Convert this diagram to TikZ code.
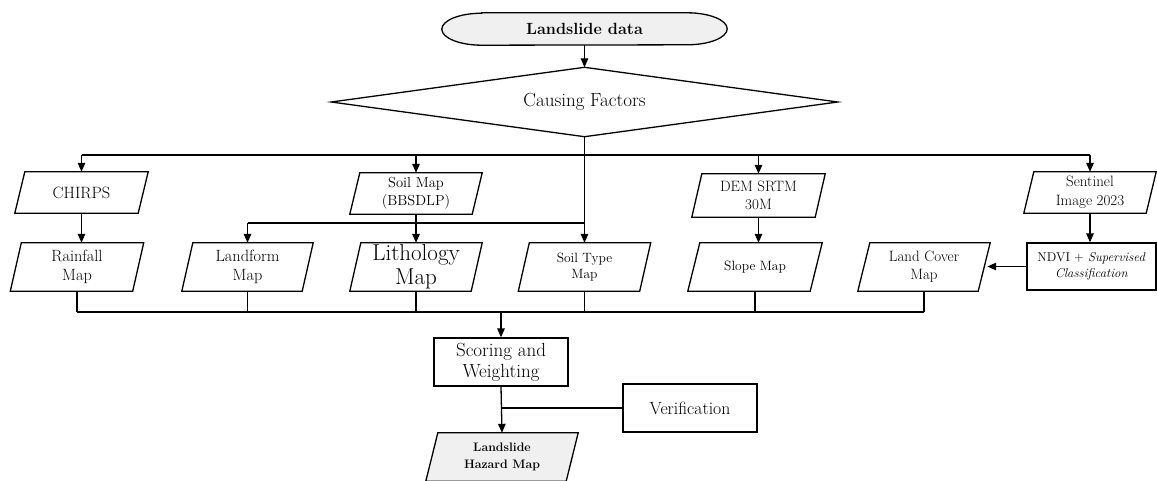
\documentclass[tikz,border=0pt]{standalone}
\usetikzlibrary{arrows.meta,calc,backgrounds}
\newcommand\pg[3][]{\draw[ln,#1] ($(#2.north west)+(#3,0)$) -- ($(#2.north east)+(#3,0)$) -- ($(#2.south east)-(#3,0)$) -- ($(#2.south west)-(#3,0)$) -- cycle;}
\newcommand\fsz[2]{\fontsize{#1}{#2}\selectfont}
\begin{document}
\begin{tikzpicture}[x=1pt,y=-1pt,
  base/.style={inner sep=0pt, align=center, text=black},
  prow1/.style={base, minimum width=123pt, minimum height=41pt},
  prow2/.style={base, minimum width=121pt, minimum height=48pt},
  rbox/.style={base, draw, line width=1.3pt, minimum width=134pt, minimum height=48pt},
  ln/.style={line width=1.3pt},
  arr/.style={ln, -{Triangle[length=9pt,width=7.5pt]}},
  lightfill/.style={fill=black!6}]
\useasboundingbox (0,0) rectangle (1157,480);

% top
\node[base, minimum width=285pt, minimum height=32pt, font=\fsz{16.2}{19}\bfseries] (ld) at (584.5,29) {Landslide data};
\node[base, minimum width=506pt, minimum height=69pt, font=\fsz{19}{22}] (cf) at (584.5,102) {Causing Factors};

% row 1
\node[prow1, font=\fsz{16.4}{19}] (chirps) at (81.5,192.5) {CHIRPS};
\node[prow1, minimum width=122pt, font=\fsz{14.5}{18}] (soilmap) at (416,193.5) {Soil Map\\(BBSDLP)};
\node[prow1, minimum height=43pt, font=\fsz{15}{18}] (dem) at (758.5,195.5) {DEM SRTM\\30M};
\node[prow1, minimum width=122pt, font=\fsz{15}{19}] (sent) at (1090,192.5) {Sentinel\\Image 2023};

% row 2
\node[prow2, minimum width=122pt, font=\fsz{16.3}{19}] (rain) at (77,267) {Rainfall\\Map};
\node[prow2, minimum width=120pt, font=\fsz{16.3}{19}] (landform) at (247.5,267) {Landform\\Map};
\node[prow2, font=\fsz{23}{23.5}] (litho) at (416,267) {Lithology\\Map};
\node[prow2, font=\fsz{13.5}{16}] (soiltype) at (584.5,267) {Soil Type\\Map};
\node[prow2, minimum width=122pt, font=\fsz{13.5}{16}] (slope) at (755,267) {Slope Map};
\node[prow2, minimum width=120pt, font=\fsz{15}{18}] (landcover) at (924,267) {Land Cover\\Map};
\node[rbox, minimum width=129pt, minimum height=47pt, font=\fsz{12.8}{15.5}] (ndvi) at (1091.5,266.5) {NDVI + \textit{Supervised}\\\textit{Classification}};

% bottom
\node[rbox, font=\fsz{19}{21}] (score) at (501,362) {Scoring and\\Weighting};
\node[rbox, font=\fsz{17.7}{19}] (verif) at (690,408) {Verification};
\node[base, minimum width=140pt, minimum height=48pt, font=\fsz{12.3}{17}\bfseries] (hazard) at (502,457) {Landslide\\Hazard Map};

% shapes behind text
\begin{scope}[on background layer]
  \draw[ln, lightfill] ($(ld.north west)+(40pt,0)$) -- ($(ld.north east)-(40pt,0)$)
     arc[start angle=90, end angle=-90, x radius=40pt, y radius=16pt]
     -- ($(ld.south west)+(40pt,0)$)
     arc[start angle=270, end angle=90, x radius=40pt, y radius=16pt] -- cycle;
  \draw[ln] (cf.north) -- (cf.east) -- (cf.south) -- (cf.west) -- cycle;
  \pg{chirps}{5}
  \pg{soilmap}{5}
  \pg{dem}{5}
  \pg{sent}{5}
  \pg{rain}{5.5}
  \pg{landform}{5.5}
  \pg{litho}{5.5}
  \pg{soiltype}{5.5}
  \pg{slope}{6}
  \pg{landcover}{6}
  \pg[lightfill]{hazard}{6}
\end{scope}

% buses
\coordinate (bus1) at (0,155);
\coordinate (bus2) at (0,223);
\coordinate (bus3) at (0,312);

% connectors
\draw[arr] (ld.south) -- (cf.north);
\draw[arr] (cf.south) -- (soiltype.north);
\draw[ln] (bus1 -| chirps) -- (bus1 -| sent);
\draw[arr] (bus1 -| chirps) -- (chirps.north);
\draw[arr] (bus1 -| soilmap) -- (soilmap.north);
\draw[arr] (bus1 -| dem) -- (dem.north);
\draw[arr] (bus1 -| sent) -- (sent.north);

\draw[arr] (chirps.south) -- (chirps.south |- rain.north);
\draw[ln] (soilmap.south) -- (bus2 -| soilmap);
\draw[ln] (bus2 -| landform) -- (bus2 -| soiltype);
\draw[arr] (bus2 -| landform) -- (landform.north);
\draw[arr] (bus2 -| soilmap) -- (soilmap.south |- litho.north);
\draw[arr] (dem.south) -- (dem.south |- slope.north);
\draw[arr] (sent.south) -- (sent.south |- ndvi.north);
\draw[arr] (ndvi.west) -- ($(ndvi.west -| landcover.east)+(3pt,0)$);

\draw[ln] (rain.south) -- (bus3 -| rain);
\draw[ln] (landform.south) -- (bus3 -| landform);
\draw[ln] (litho.south) -- (bus3 -| litho);
\draw[ln] (soiltype.south) -- (bus3 -| soiltype);
\draw[ln] (slope.south) -- (bus3 -| slope);
\draw[ln] (landcover.south) -- (bus3 -| landcover);
\draw[ln] (bus3 -| rain) -- (bus3 -| landcover);
\draw[arr] (bus3 -| score) -- (score.north);

\draw[arr] (score.south) -- (hazard.north);
\draw[ln] (verif.west) -- (verif.west -| score);
\end{tikzpicture}
\end{document}
